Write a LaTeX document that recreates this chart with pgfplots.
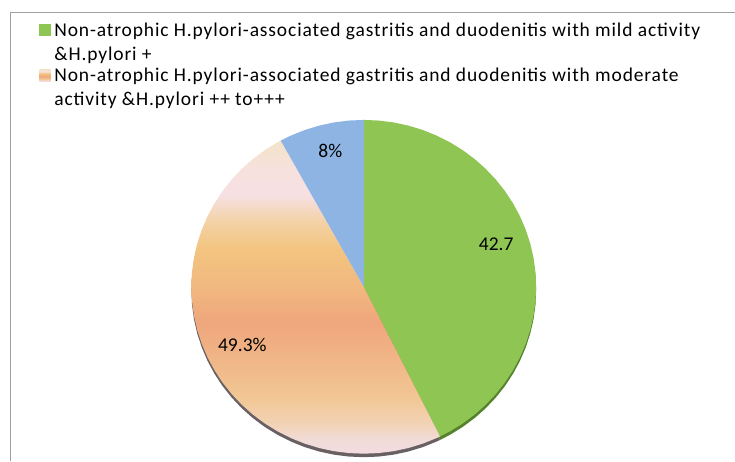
\documentclass[border=0pt]{standalone}
\usepackage{fontspec}
\setmainfont{Carlito}
\usepackage{pgfplots}
\pgfplotsset{compat=1.18}
\definecolor{pgreen}{RGB}{143,198,83}
\definecolor{pblue}{RGB}{142,180,227}
\definecolor{framec}{RGB}{160,160,160}
\definecolor{gshadow}{RGB}{85,130,45}
\definecolor{pshadow}{RGB}{105,96,100}
\definecolor{ca}{RGB}{242,220,224}
\definecolor{cb}{RGB}{241,220,216}
\definecolor{cc}{RGB}{242,210,181}
\definecolor{cd}{RGB}{242,199,149}
\definecolor{ce}{RGB}{240,184,136}
\definecolor{cf}{RGB}{239,166,124}
\definecolor{cg}{RGB}{241,184,128}
\definecolor{ch}{RGB}{243,196,127}
\definecolor{ci}{RGB}{243,210,165}
\definecolor{cj}{RGB}{246,224,227}
\definecolor{ck}{RGB}{246,225,222}
\definecolor{cl}{RGB}{243,227,200}
\pgfdeclareverticalshading{peachgrad}{100bp}{color(0bp)=(ca); color(25bp)=(ca); color(27.2bp)=(cb); color(29.9bp)=(cc); color(33.9bp)=(cd); color(39.2bp)=(ce); color(45.9bp)=(cf); color(51.6bp)=(cg); color(57.6bp)=(ch); color(62bp)=(ci); color(66.3bp)=(cj); color(70.3bp)=(ck); color(75bp)=(cl); color(100bp)=(cl)}
\begin{document}
\begin{tikzpicture}
\path (0pt,0pt) rectangle (735pt,461pt);
\draw[framec, line width=1pt] (10.5pt,0pt) -- (10.5pt,448.5pt) -- (735pt,448.5pt);
\begin{axis}[
  at={(191.5pt,7pt)}, anchor=south west,
  scale only axis, width=345pt, height=334pt,
  xmin=-1, xmax=1, ymin=-1, ymax=1,
  hide axis, clip=false,
  legend image code/.code={\draw[#1, draw=none] (0pt,24.5pt) rectangle (11.4pt,35.9pt);},
  legend style={overlay, at={(axis description cs:-0.4412,1.2985)}, anchor=north west,
    draw=none, fill=none, inner sep=0pt, row sep=2.5pt,
    font=\fontsize{19.5}{24}\selectfont\addfontfeatures{LetterSpace=4.5},
    cells={align=left, anchor=base west, inner sep=0pt},
    /tikz/every odd column/.append style={column sep=1.5pt}},
]
% shadow edge
\addplot[fill=pshadow, draw=none, yshift=-3.5pt, data cs=polar, forget plot] coordinates {
(0,0) (-63.72,1) (-65,1) (-70,1) (-75,1) (-80,1) (-85,1) (-90,1) (-95,1) (-100,1) (-105,1) (-110,1) (-115,1) (-120,1) (-125,1) (-130,1) (-135,1) (-140,1) (-145,1) (-150,1) (-155,1) (-160,1) (-165,1) (-170,1) (-175,1) (-180,1) (-185,1) (-190,1) (-195,1) (-200,1) (-205,1) (-210,1) (-215,1) (-220,1) (-225,1) (-230,1) (-235,1) (-240,1) (-241.2,1) (0,0)};
\addplot[fill=gshadow, draw=none, yshift=-3.5pt, data cs=polar, forget plot] coordinates {
(0,0) (90,1) (85,1) (80,1) (75,1) (70,1) (65,1) (60,1) (55,1) (50,1) (45,1) (40,1) (35,1) (30,1) (25,1) (20,1) (15,1) (10,1) (5,1) (0,1) (-5,1) (-10,1) (-15,1) (-20,1) (-25,1) (-30,1) (-35,1) (-40,1) (-45,1) (-50,1) (-55,1) (-60,1) (-63.72,1) (0,0)};
% 42.7 %
\addplot[fill=pgreen, draw=none, data cs=polar] coordinates {
(0,0) (90,1) (85,1) (80,1) (75,1) (70,1) (65,1) (60,1) (55,1) (50,1) (45,1) (40,1) (35,1) (30,1) (25,1) (20,1) (15,1) (10,1) (5,1) (0,1) (-5,1) (-10,1) (-15,1) (-20,1) (-25,1) (-30,1) (-35,1) (-40,1) (-45,1) (-50,1) (-55,1) (-60,1) (-63.72,1) (0,0)};
\addlegendentry{Non-atrophic H.pylori-associated gastritis and duodenitis with mild activity\\\&H.pylori +}
% 49.3 %
\addplot[shade, shading=peachgrad, draw=none, data cs=polar] coordinates {
(0,0) (-63.72,1) (-65,1) (-70,1) (-75,1) (-80,1) (-85,1) (-90,1) (-95,1) (-100,1) (-105,1) (-110,1) (-115,1) (-120,1) (-125,1) (-130,1) (-135,1) (-140,1) (-145,1) (-150,1) (-155,1) (-160,1) (-165,1) (-170,1) (-175,1) (-180,1) (-185,1) (-190,1) (-195,1) (-200,1) (-205,1) (-210,1) (-215,1) (-220,1) (-225,1) (-230,1) (-235,1) (-240,1) (-241.2,1) (0,0)};
\addlegendentry{Non-atrophic H.pylori-associated gastritis and duodenitis with moderate\\activity \&H.pylori ++ to+++}
% 8 %
\addplot[fill=pblue, draw=none, data cs=polar, forget plot] coordinates {
(0,0) (118.8,1) (115,1) (110,1) (105,1) (100,1) (95,1) (90,1) (0,0)};
\end{axis}
\begin{scope}[every node/.style={inner sep=0pt, font=\fontsize{19.5}{23}\selectfont}]
\node at (496.5pt,216.5pt) {42.7};
\node at (330.5pt,310pt) {8\%};
\node at (242.5pt,116pt) {49.3\%};
\end{scope}
\end{tikzpicture}
\end{document}
